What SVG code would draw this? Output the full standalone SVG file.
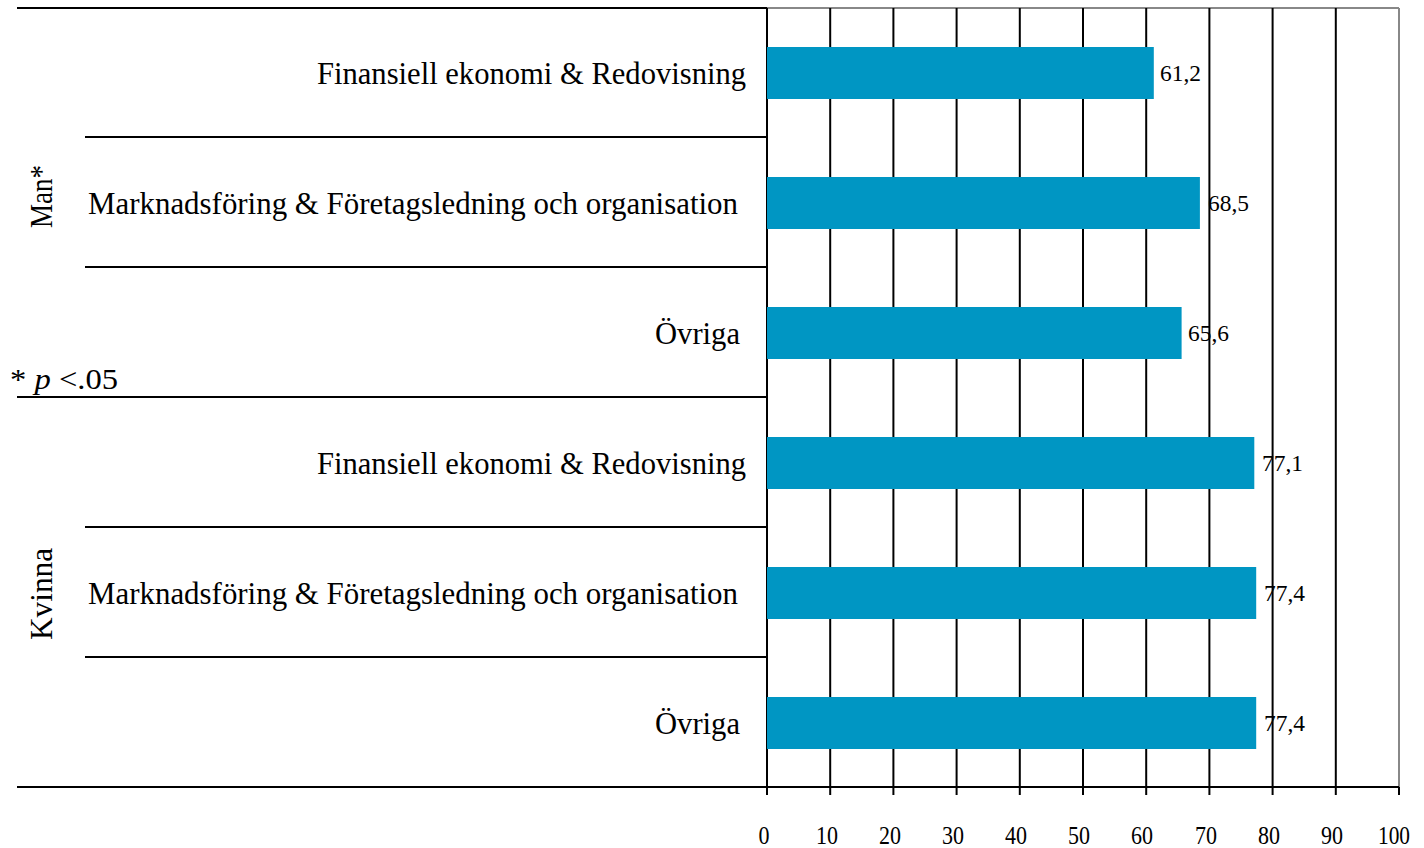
<svg xmlns="http://www.w3.org/2000/svg" width="1424" height="848" viewBox="0 0 1424 848">
<style>
.cat{font-family:"Liberation Serif","Times New Roman",serif;font-size:32px;fill:#000;text-anchor:end}
.grp{font-family:"Liberation Serif","Times New Roman",serif;font-size:32px;fill:#000;text-anchor:middle}
.val{font-family:"Liberation Serif","Times New Roman",serif;font-size:24px;fill:#000}
.tick{font-family:"Liberation Serif","Times New Roman",serif;font-size:26px;fill:#000;text-anchor:middle}
.note{font-family:"Liberation Serif","Times New Roman",serif;font-size:30px;fill:#000}
.sep{stroke:#000;stroke-width:2}
.grid{stroke:#000;stroke-width:2}
.bar{fill:#0096C3}
</style>
<rect width="1424" height="848" fill="#fff"/>
<g id="grid">
  <line x1="767" y1="8" x2="1399" y2="8" stroke="#888" stroke-width="2"/>
  <line x1="1399" y1="8" x2="1399" y2="787" stroke="#888" stroke-width="2"/>
  <line class="grid" x1="830.2" y1="8" x2="830.2" y2="795"/>
  <line class="grid" x1="893.4" y1="8" x2="893.4" y2="795"/>
  <line class="grid" x1="956.6" y1="8" x2="956.6" y2="795"/>
  <line class="grid" x1="1019.8" y1="8" x2="1019.8" y2="795"/>
  <line class="grid" x1="1083" y1="8" x2="1083" y2="795"/>
  <line class="grid" x1="1146.2" y1="8" x2="1146.2" y2="795"/>
  <line class="grid" x1="1209.4" y1="8" x2="1209.4" y2="795"/>
  <line class="grid" x1="1272.6" y1="8" x2="1272.6" y2="795"/>
  <line class="grid" x1="1335.8" y1="8" x2="1335.8" y2="795"/>
  <line class="grid" x1="1399" y1="787" x2="1399" y2="795"/>
</g>
<g id="connectors">
  <line class="sep" x1="17" y1="8" x2="767" y2="8"/>
  <line class="sep" x1="85" y1="137" x2="767" y2="137"/>
  <line class="sep" x1="85" y1="267" x2="767" y2="267"/>
  <line class="sep" x1="17" y1="397" x2="767" y2="397"/>
  <line class="sep" x1="85" y1="527" x2="767" y2="527"/>
  <line class="sep" x1="85" y1="657" x2="767" y2="657"/>
  <line class="sep" x1="17" y1="787" x2="1399" y2="787"/>
  <line class="sep" x1="767" y1="8" x2="767" y2="795"/>
</g>
<g id="bars">
  <rect class="bar" x="767" y="47" width="386.8" height="52"/>
  <rect class="bar" x="767" y="177" width="432.9" height="52"/>
  <rect class="bar" x="767" y="307" width="414.6" height="52"/>
  <rect class="bar" x="767" y="437" width="487.3" height="52"/>
  <rect class="bar" x="767" y="567" width="489.2" height="52"/>
  <rect class="bar" x="767" y="697" width="489.2" height="52"/>
</g>
<g id="values">
  <text class="val" x="1160" y="81" textLength="41" lengthAdjust="spacingAndGlyphs">61,2</text>
  <text class="val" x="1208" y="211" textLength="41" lengthAdjust="spacingAndGlyphs">68,5</text>
  <text class="val" x="1188" y="341" textLength="41" lengthAdjust="spacingAndGlyphs">65,6</text>
  <text class="val" x="1262" y="471" textLength="41" lengthAdjust="spacingAndGlyphs">77,1</text>
  <text class="val" x="1264" y="601" textLength="41" lengthAdjust="spacingAndGlyphs">77,4</text>
  <text class="val" x="1264" y="731" textLength="41" lengthAdjust="spacingAndGlyphs">77,4</text>
</g>
<g id="categories">
  <text class="cat" x="746" y="84" textLength="429" lengthAdjust="spacingAndGlyphs">Finansiell ekonomi &amp; Redovisning</text>
  <text class="cat" x="738" y="214" textLength="650" lengthAdjust="spacingAndGlyphs">Marknadsföring &amp; Företagsledning och organisation</text>
  <text class="cat" x="740" y="344" textLength="85" lengthAdjust="spacingAndGlyphs">Övriga</text>
  <text class="cat" x="746" y="474" textLength="429" lengthAdjust="spacingAndGlyphs">Finansiell ekonomi &amp; Redovisning</text>
  <text class="cat" x="738" y="604" textLength="650" lengthAdjust="spacingAndGlyphs">Marknadsföring &amp; Företagsledning och organisation</text>
  <text class="cat" x="740" y="734" textLength="85" lengthAdjust="spacingAndGlyphs">Övriga</text>
</g>
<g id="groups">
  <text class="grp" transform="translate(52,196.5) rotate(-90)" textLength="63" lengthAdjust="spacingAndGlyphs">Man*</text>
  <text class="grp" transform="translate(52,594) rotate(-90)" textLength="92" lengthAdjust="spacingAndGlyphs">Kvinna</text>
</g>
<g id="note">
  <text class="note" x="10" y="389" textLength="108" lengthAdjust="spacingAndGlyphs">* <tspan font-style="italic">p</tspan> &lt;.05</text>
</g>
<g id="ticks">
  <text class="tick" x="764" y="844" textLength="11" lengthAdjust="spacingAndGlyphs">0</text>
  <text class="tick" x="827" y="844" textLength="22" lengthAdjust="spacingAndGlyphs">10</text>
  <text class="tick" x="890" y="844" textLength="22" lengthAdjust="spacingAndGlyphs">20</text>
  <text class="tick" x="953" y="844" textLength="22" lengthAdjust="spacingAndGlyphs">30</text>
  <text class="tick" x="1016" y="844" textLength="22" lengthAdjust="spacingAndGlyphs">40</text>
  <text class="tick" x="1079" y="844" textLength="22" lengthAdjust="spacingAndGlyphs">50</text>
  <text class="tick" x="1142" y="844" textLength="22" lengthAdjust="spacingAndGlyphs">60</text>
  <text class="tick" x="1206" y="844" textLength="22" lengthAdjust="spacingAndGlyphs">70</text>
  <text class="tick" x="1269" y="844" textLength="22" lengthAdjust="spacingAndGlyphs">80</text>
  <text class="tick" x="1332" y="844" textLength="22" lengthAdjust="spacingAndGlyphs">90</text>
  <text class="tick" x="1394" y="844" textLength="32" lengthAdjust="spacingAndGlyphs">100</text>
</g>
</svg>
